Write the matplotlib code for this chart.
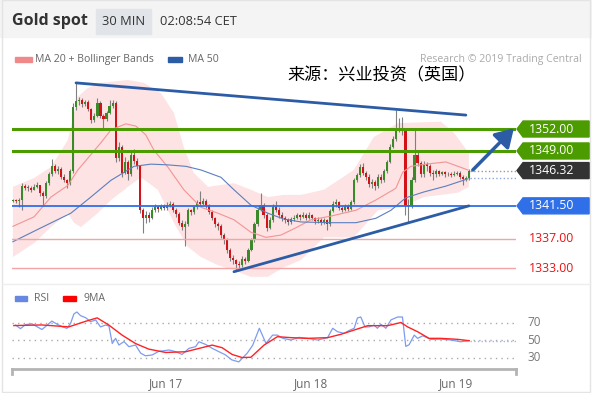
import numpy as np
import matplotlib.pyplot as plt
import matplotlib.transforms as mtransforms
from matplotlib.patches import Rectangle, Polygon

plt.rcParams['font.family'] = ['Open Sans', 'DejaVu Sans']

###  30 min bars, index 0 = first bar on the chart
close = [1342.3, 1342.2, 1342.3, 1344.2, 1343.9, 1344.0, 1343.7, 1344.1, 1344.3, 1343.2,
         1342.8, 1344.6, 1345.8, 1346.9, 1346.3, 1346.6, 1345.5, 1345.0, 1344.6, 1346.2,
         1355.0, 1355.8, 1356.0, 1355.4, 1355.7, 1354.8, 1353.2, 1353.8, 1355.6, 1353.8,
         1353.4, 1354.2, 1355.2, 1355.6, 1348.0, 1349.5, 1346.0, 1347.5, 1345.8, 1348.5,
         1347.6, 1346.9, 1340.9, 1339.8, 1340.3, 1339.9, 1341.0, 1341.3, 1341.1, 1341.5,
         1341.2, 1341.6, 1341.8, 1341.0, 1340.4, 1339.2, 1338.6, 1339.0, 1340.9, 1340.6,
         1341.3, 1342.0, 1341.8, 1342.2, 1341.6, 1340.7, 1339.8, 1339.0, 1338.8, 1337.5,
         1336.9, 1335.5, 1334.4, 1334.1, 1333.6, 1333.4, 1334.2, 1334.0, 1335.5, 1336.8,
         1339.0, 1341.0, 1341.6, 1340.2, 1338.5, 1339.5, 1341.4, 1341.0, 1340.2, 1339.8,
         1339.5, 1339.3, 1339.7, 1339.9, 1340.2, 1340.0, 1340.3, 1339.9, 1340.3, 1339.8,
         1339.4, 1339.6, 1339.2, 1339.5, 1339.0, 1340.8, 1341.8, 1342.0, 1341.2, 1341.0,
         1341.5, 1341.1, 1342.0, 1345.0, 1345.7, 1346.8, 1346.0, 1345.5, 1344.5, 1344.8,
         1344.2, 1345.5, 1345.0, 1346.2, 1347.5, 1349.6, 1350.6, 1352.0, 1352.2, 1351.8,
         1341.5, 1341.5, 1345.0, 1348.5, 1347.3, 1345.8, 1347.2, 1347.0, 1346.0, 1345.8,
         1346.2, 1345.9, 1346.1, 1345.8, 1345.9, 1345.7, 1345.9, 1346.0, 1345.5, 1345.2,
         1345.3, 1346.32]
high = [1342.5, 1342.5, 1342.6, 1344.6, 1344.5, 1344.3, 1344.2, 1344.5, 1344.7, 1344.4,
        1343.5, 1344.9, 1346.1, 1347.9, 1347.2, 1346.9, 1346.8, 1345.8, 1345.2, 1346.5,
        1355.5, 1358.3, 1356.4, 1356.2, 1356.0, 1355.9, 1354.9, 1354.2, 1356.2, 1355.8,
        1354.1, 1354.5, 1356.0, 1356.0, 1355.8, 1350.2, 1349.8, 1348.2, 1347.8, 1349.0,
        1349.3, 1348.0, 1347.1, 1341.2, 1340.8, 1340.6, 1341.3, 1341.8, 1341.5, 1341.8,
        1341.7, 1342.0, 1342.2, 1342.0, 1341.2, 1340.6, 1339.5, 1339.4, 1341.2, 1341.1,
        1341.6, 1342.3, 1343.5, 1342.6, 1342.4, 1341.8, 1340.9, 1340.0, 1339.3, 1339.0,
        1337.8, 1337.1, 1335.8, 1334.8, 1334.3, 1334.0, 1334.6, 1334.5, 1335.8, 1337.1,
        1339.3, 1341.4, 1343.3, 1341.9, 1340.5, 1340.0, 1341.8, 1342.2, 1341.3, 1340.6,
        1340.1, 1339.9, 1340.0, 1340.3, 1340.5, 1340.4, 1340.6, 1340.5, 1340.6, 1340.4,
        1340.0, 1340.0, 1339.8, 1339.9, 1339.7, 1341.1, 1342.2, 1342.4, 1342.1, 1341.5,
        1341.8, 1341.7, 1342.3, 1345.3, 1346.0, 1347.2, 1347.3, 1346.3, 1345.8, 1345.2,
        1345.0, 1345.9, 1345.8, 1346.6, 1347.8, 1350.0, 1351.0, 1354.6, 1353.5, 1353.6,
        1352.0, 1342.5, 1345.4, 1352.1, 1348.9, 1347.6, 1347.6, 1347.5, 1347.2, 1346.4,
        1346.5, 1346.4, 1346.3, 1346.3, 1346.1, 1346.1, 1346.2, 1346.3, 1346.2, 1345.7,
        1345.6, 1346.5]
low = [1342.0, 1341.9, 1341.3, 1340.9, 1343.6, 1343.5, 1343.4, 1343.6, 1343.9, 1342.9,
       1341.5, 1342.6, 1344.4, 1345.6, 1346.0, 1345.9, 1345.2, 1344.7, 1343.9, 1344.4,
       1346.0, 1354.6, 1355.3, 1355.0, 1355.1, 1354.5, 1352.8, 1352.9, 1353.6, 1353.5,
       1352.0, 1353.1, 1354.0, 1354.9, 1347.5, 1347.6, 1345.5, 1345.8, 1345.0, 1345.6,
       1347.2, 1346.5, 1340.5, 1337.8, 1339.2, 1339.3, 1339.7, 1340.7, 1340.6, 1340.9,
       1340.9, 1341.0, 1341.3, 1340.7, 1340.0, 1338.9, 1338.2, 1336.0, 1338.8, 1340.2,
       1340.4, 1341.1, 1341.5, 1341.6, 1341.2, 1340.4, 1339.5, 1338.6, 1338.2, 1337.1,
       1336.3, 1335.0, 1334.0, 1333.5, 1332.7, 1332.9, 1333.1, 1333.6, 1333.8, 1335.3,
       1336.6, 1338.8, 1340.8, 1339.8, 1338.0, 1338.3, 1339.3, 1340.6, 1339.9, 1339.4,
       1339.1, 1338.9, 1339.0, 1339.4, 1339.7, 1339.6, 1339.8, 1339.6, 1339.7, 1339.5,
       1339.0, 1339.1, 1338.9, 1339.0, 1338.2, 1338.8, 1340.6, 1341.4, 1340.9, 1340.6,
       1340.8, 1340.8, 1340.9, 1341.8, 1344.7, 1345.5, 1345.7, 1345.1, 1344.1, 1344.0,
       1343.7, 1344.0, 1344.6, 1344.8, 1346.0, 1347.3, 1349.4, 1350.4, 1351.6, 1351.2,
       1340.3, 1339.3, 1341.2, 1344.8, 1346.9, 1345.4, 1345.5, 1346.2, 1345.6, 1345.0,
       1345.5, 1345.6, 1345.7, 1345.5, 1345.6, 1345.4, 1345.6, 1345.7, 1345.2, 1344.3,
       1344.9, 1345.0]
first_open = 1342.2

###  indicators (at bar positions)
ma20_x = [0, 7, 12.6, 18.2, 21.5, 29.1, 32.5, 37.4, 40.7, 44, 46.7, 51.3, 56.6, 62.3, 67.9,
          73.2, 78.8, 83.8, 88.7, 93.7, 98.7, 105.3, 113.6, 120.2, 126.8, 129.1, 131.8,
          136.8, 143.4, 150.7]
ma20_y = [1338.7, 1340.0, 1342.7, 1344.3, 1346.4, 1350.1, 1351.9, 1352.7, 1352.4, 1351.2,
          1349.1, 1346.8, 1343.7, 1341.3, 1340.5, 1339.6, 1337.9, 1337.2, 1337.5, 1338.5,
          1339.6, 1340.1, 1340.9, 1342.3, 1343.9, 1346.1, 1346.9, 1347.2, 1347.5, 1346.4]
bb_up_x = [0, 7, 12.6, 18.2, 21.5, 24.8, 29.1, 38.1, 43.4, 49, 53.3, 56.6, 59.9, 64.6, 73.2,
           78.8, 84.4, 89.7, 95.4, 103, 112.9, 119.5, 127.5, 141.7, 146, 151]
bb_up_y = [1344.1, 1345.3, 1346.8, 1350.5, 1356.4, 1357.6, 1358.3, 1358.7, 1358.3, 1356.9,
           1354.2, 1349.5, 1346.0, 1344.1, 1344.6, 1343.7, 1342.7, 1343.0, 1343.0, 1343.7,
           1346.4, 1350.9, 1352.8, 1353.0, 1351.5, 1348.7]
bb_lo_x = [0, 7, 12.6, 18.2, 20.2, 22.5, 28.1, 32.5, 38.1, 42.4, 48, 53.3, 57.9, 62.3, 67.9,
           73.2, 78.8, 84.4, 89.7, 95.4, 103, 112.9, 120.9, 128.5, 136.1, 147.4, 151]
bb_lo_y = [1334.5, 1336.4, 1338.6, 1340.5, 1339.2, 1338.6, 1340.5, 1342.3, 1344.1, 1345.4,
           1343.7, 1339.2, 1335.9, 1334.5, 1333.4, 1332.7, 1331.8, 1331.8, 1333.1, 1334.1,
           1337.2, 1337.2, 1340.9, 1341.3, 1342.7, 1343.3, 1344.1]
ma50_x = [0, 9.3, 19.2, 25.8, 32.5, 40.1, 45.7, 51.3, 57.3, 62.3, 68.9, 73.2, 78.8, 84.4,
          89.7, 95.4, 105.3, 113.6, 120.2, 125.2, 130.1, 136.1, 143.4, 150.7]
ma50_y = [1336.6, 1338.5, 1340.5, 1342.7, 1345.0, 1346.9, 1347.2, 1347.1, 1346.9, 1346.4,
          1345.4, 1343.7, 1341.6, 1340.5, 1339.7, 1339.3, 1339.2, 1339.2, 1339.8, 1340.9,
          1342.6, 1343.4, 1344.2, 1345.2]

rsi_x = [0.9, 2.5, 4.2, 6.3, 8, 9.6, 11.4, 12.9, 14.7, 16.3, 17.9, 19.1, 20.2, 21.2, 22.4,
         24.1, 25.7, 27.4, 29, 30.7, 31.8, 32.9, 34, 35.1, 36.8, 38.4, 40.6, 42.3, 43.9,
         46.1, 48.3, 51.7, 53.9, 56, 58.3, 60.5, 61.6, 63.8, 66, 68.2, 70.4, 72.5, 74.8,
         75.9, 77.6, 79.4, 81.6, 83.8, 86, 87.6, 89.3, 92.1, 94.8, 97.6, 100.9, 104.2,
         105.9, 107.5, 109.7, 111.4, 113, 114.1, 115.2, 116.6, 118, 119.6, 120.7, 121.9,
         123.5, 125.2, 127.4, 129, 130.1, 131.2, 132.9, 134, 135.7, 138.4, 141.7, 145,
         148.3, 150.6]
rsi_y = [67, 63, 67.6, 68.5, 65.2, 62, 67.1, 71.6, 67.9, 65.2, 63.3, 69, 79.8, 82, 77.8,
         75.5, 70.9, 72.9, 65, 67.1, 66, 46, 51.9, 44.3, 48.2, 42.4, 44.3, 35, 32, 32.9, 37,
         38.6, 36.7, 33.5, 40.5, 42.4, 48, 45, 40.5, 36.7, 33, 27.3, 25, 29, 35, 44, 63.4,
         46.2, 55.6, 55.6, 52, 50, 53, 51.9, 50, 52.7, 63.4, 59.5, 57.6, 61, 63.4, 75.2,
         76.3, 65, 65, 67, 63.4, 67.9, 63.4, 73, 76.3, 76.3, 42.7, 44.6, 55.6, 51.9, 54.8,
         50.8, 51.1, 50, 48, 49]
rsi_ma_x = [0.3, 9.6, 18.5, 24.1, 27.9, 31.8, 36.2, 40.6, 45, 50.6, 57.2, 61.6, 66, 69.3,
            72.6, 75.9, 78.8, 83.2, 87.6, 92.1, 97.6, 104.2, 108.6, 113, 117.5, 120.8, 124.1,
            128.5, 130.7, 134, 137.8, 141.7, 147.2, 151.1]
rsi_ma_y = [66.5, 67.2, 65, 71.4, 75.3, 67, 55.5, 46, 39.6, 35.8, 36.6, 40.4, 44.2, 41.2,
            33.5, 30, 30.3, 44.3, 53.8, 52.7, 51.9, 52.7, 56.5, 61.4, 66.4, 66.4, 66.4, 70,
            65, 59.5, 51.9, 51.9, 50.8, 49.2]

levels = [1352.0, 1349.0, 1341.5, 1337.0, 1333.0]
level_kind = ['green', 'green', 'blue', 'red', 'red']
last_price = 1346.32
ma50_last = 1345.3
trend_top = ([20.9, 150.0], [1358.3, 1353.9])
trend_bottom = ([73.2, 151.0], [1332.5, 1341.5])
arrow_from = (152.3, 1346.4)
arrow_to = (165.9, 1352.1)
rsi_levels = [70, 50, 30]
day_ticks = [50.7, 98.7, 146.7]
day_labels = ['Jun 17', 'Jun 18', 'Jun 19']

GREEN = '#4c9b00'
BLUE = '#2f6fe8'
RED = '#f4a4a4'
TREND = '#2d5ca6'

fig = plt.figure(figsize=(5.92, 3.93), dpi=100)

# background / header in pixel coordinates
bg = fig.add_axes([0, 0, 1, 1])
bg.set_xlim(0, 592)
bg.set_ylim(393, 0)
bg.axis('off')
bg.add_patch(Rectangle((0, 0), 592, 37, color='#f4f4f4', zorder=0))
bg.add_patch(Rectangle((2, 0), 588, 392, fill=False, ec='#e4e4e4', lw=1))
bg.plot([2, 590], [284, 284], color='#eeeeee', lw=1)
bg.text(12, 21, 'Gold spot', fontsize=11.5, fontweight='bold', color='#333333', va='center')
bg.add_patch(Rectangle((96, 9), 55, 25, color='#e1e4e9'))
bg.text(123.5, 21.5, '30 MIN', fontsize=9.3, color='#333333', ha='center', va='center')
bg.text(160, 21.5, '02:08:54 CET', fontsize=9.3, color='#333333', va='center')
bg.add_patch(Rectangle((15, 57), 17, 5, color='#f08a8a'))
bg.text(35, 59.5, 'MA 20 + Bollinger Bands', fontsize=7.6, color='#666666', va='center')
bg.add_patch(Rectangle((168, 57), 14, 5, color=TREND))
bg.text(188, 59.5, 'MA 50', fontsize=7.6, color='#666666', va='center')
bg.text(582, 59.5, 'Research © 2019 Trading Central', fontsize=7.6, color='#aaaaaa',
        ha='right', va='center')
bg.text(287, 75, '来源：兴业投资（英国）', fontsize=12.3, color='black', va='center',
        family=['Noto Sans CJK SC', 'DejaVu Sans'])
bg.add_patch(Rectangle((15, 296), 12, 5, color='#6688e0'))
bg.text(34, 298.5, 'RSI', fontsize=7.6, color='#666666', va='center')
bg.add_patch(Rectangle((63, 296), 13, 5, color='red'))
bg.text(83, 298.5, '9MA', fontsize=7.6, color='#666666', va='center')

###  main price panel
ax = fig.add_axes([12 / 592, 1 - 283 / 393, 504 / 592, 243 / 393])
ax.set_facecolor('none')
ax.set_xlim(-0.3, 166.6)
ax.set_ylim(1330.96, 1364.16)
ax.axis('off')

ax.fill(np.r_[bb_up_x, bb_lo_x[::-1]], np.r_[bb_up_y, bb_lo_y[::-1]],
        color='#fde3e3', lw=0, zorder=1)

idx = np.arange(len(close))
c = np.array(close)
o = np.r_[first_open, c[:-1]]
up = c >= o
ax.vlines(idx, low, high, color='#808080', lw=0.8, zorder=2)
body_lo = np.minimum(o, c)
body_h = np.maximum(np.abs(c - o), 0.12)
ax.bar(idx, body_h, bottom=body_lo, width=0.7,
       color=np.where(up, '#3a8a2a', '#d3121a'), lw=0, zorder=3)

ax.plot(ma20_x, ma20_y, color='#f39494', lw=0.8, zorder=4)
ax.plot(ma50_x, ma50_y, color='#5a7fc0', lw=0.8, zorder=4)

for lvl, kind in zip(levels, level_kind):
    if kind == 'green':
        ax.axhline(lvl, color=GREEN, lw=2.2, zorder=5)
    elif kind == 'blue':
        ax.axhline(lvl, color=BLUE, lw=1.3, zorder=5)
    else:
        ax.axhline(lvl, color=RED, lw=1.0, zorder=5)

ax.plot([151.5, 166.6], [last_price, last_price], color='#999999', lw=1, ls=':', zorder=5)
ax.plot([151.5, 166.6], [ma50_last, ma50_last], color='#8ea6d8', lw=1, ls=':', zorder=5)

ax.plot(*trend_top, color=TREND, lw=2, solid_capstyle='round', zorder=6)
ax.plot(*trend_bottom, color=TREND, lw=2, solid_capstyle='round', zorder=6)
ax.annotate('', xy=arrow_to, xytext=arrow_from, zorder=6,
            arrowprops=dict(arrowstyle='-|>,head_length=0.9,head_width=0.55',
                            color=TREND, lw=2.5, mutation_scale=12, shrinkA=0, shrinkB=0))

# price tags on the right
trans = mtransforms.blended_transform_factory(ax.transAxes, ax.transData)
hh = 8 / 7.32
tags = [(1352.0, GREEN), (1349.0, GREEN), (last_price, '#333333'), (1341.5, BLUE)]
for p, col in tags:
    ax.add_patch(Polygon([(1.002, p), (1.014, p + hh), (1.145, p + hh), (1.145, p - hh),
                          (1.014, p - hh)], closed=True, color=col, transform=trans,
                         clip_on=False, zorder=7))
    ax.text(1.071, p, f'{p:.2f}', transform=trans, color='white', fontsize=8.8,
            ha='center', va='center', zorder=8, clip_on=False)
for p in [1337.0, 1333.0]:
    ax.text(1.071, p, f'{p:.2f}', transform=trans, color='#ee1111', fontsize=8.8,
            ha='center', va='center', clip_on=False)

###  RSI panel
ax2 = fig.add_axes([12 / 592, 1 - 369 / 393, 504 / 592, 69 / 393])
ax2.set_facecolor('none')
ax2.set_xlim(-0.3, 166.6)
ax2.set_ylim(16.9, 95.7)
for s in ['top', 'right', 'left']:
    ax2.spines[s].set_visible(False)
ax2.spines['bottom'].set_color('#b4b4b4')
ax2.spines['bottom'].set_linewidth(2)
ax2.set_yticks([])
ax2.set_xticks(day_ticks, day_labels)
ax2.tick_params(axis='x', length=0, pad=6, labelsize=8.5, colors='#666666')
for xe in [0, 1]:
    ax2.plot([xe, xe], [0, -0.07], color='#b4b4b4', lw=2, transform=ax2.transAxes,
             clip_on=False)
for lvl in rsi_levels:
    ax2.axhline(lvl, color='#aaaaaa', lw=1, ls=(0, (1, 3)))
    ax2.text(1.036, lvl, str(lvl), transform=mtransforms.blended_transform_factory(
        ax2.transAxes, ax2.transData), fontsize=8.5, color='#777777', va='center', ha='center')
ax2.plot(rsi_x, rsi_y, color='#7d9cf0', lw=0.9)
ax2.plot(rsi_ma_x, rsi_ma_y, color='#ff2222', lw=1.0)
ax2.plot([151.5, 166.6], [rsi_y[-1], rsi_y[-1]], color='#9fb4ee', lw=1, ls=':')

fig.savefig('out.png', dpi=100)
